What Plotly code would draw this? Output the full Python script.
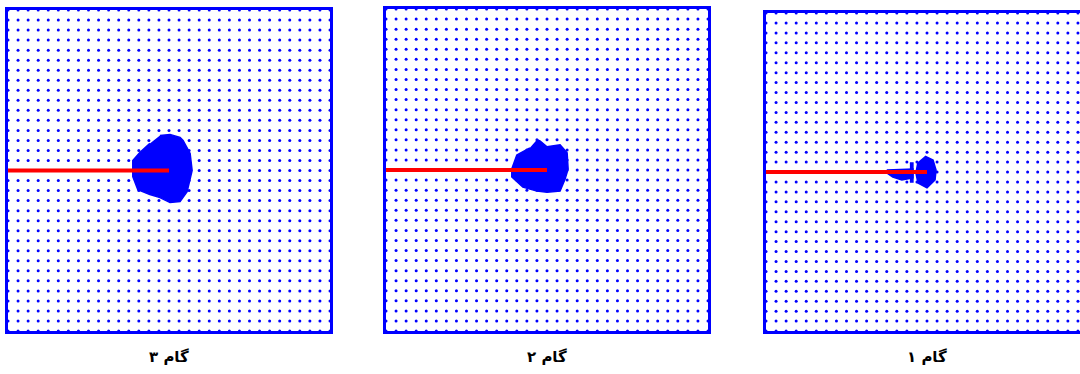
import plotly.graph_objects as go

W, H = 1080, 374

# regular lattice of sample points (both axes)
lattice = [0, 1, 2, 3, 4, 5, 6, 7, 8, 9, 10, 11, 12, 13, 14, 15, 16,
           17, 18, 19, 20, 21, 22, 23, 24, 25, 26, 27, 28, 29, 30, 31, 32]

# red path (start at left edge, end at centre)
path_x = [0, 16]
path_y = [16, 16]

# panel titles (left to right)
titles = ["گام ۳", "گام ۲", "گام ۱"]

# cluster outlines
step3_x = [15.1, 16.1, 17.1, 17.4, 18.1, 18.3, 17.8, 17.1, 16.1, 15.1, 14.1, 12.9, 12.4, 12.4, 13.1, 14.1]
step3_y = [19.5, 19.6, 19.3, 19.0, 17.7, 16.0, 13.9, 12.9, 12.8, 13.3, 13.6, 14.1, 15.4, 17.0, 17.8, 18.7]

step2_x = [15.0, 15.3, 16.0, 17.3, 18.0, 18.1, 17.8, 17.3, 16.0, 15.0, 13.6, 12.5, 12.5, 13.0, 14.3]
step2_y = [19.0, 18.9, 18.3, 18.5, 17.7, 16.1, 15.1, 13.9, 13.8, 13.9, 14.3, 15.3, 16.1, 17.5, 18.2]

step1_x = [15.8, 16.6, 16.9, 16.8, 16.0, 15.1, 14.9, 15.1]
step1_y = [17.6, 17.2, 16.2, 15.2, 14.4, 14.9, 15.9, 17.0]
step1_strip_x = [14.3, 14.6, 14.6, 14.3]
step1_strip_y = [16.9, 16.9, 15.0, 15.0]
step1_tail_x = [12.0, 14.6, 14.6, 13.5, 12.6, 12.0]
step1_tail_y = [16.2, 16.3, 15.4, 15.2, 15.5, 15.9]

BLUE = "#0000FF"
RED = "#FF0000"

# panel pixel boxes: (left, top, right, bottom)
boxes = [(8, 10, 330, 331), (386, 9, 708, 331), (766, 13, 1080, 331)]
unit = 322 / 32

fig = go.Figure()
gx = [x for y in lattice for x in lattice]
gy = [y for y in lattice for x in lattice]

clusters = [
    [(step3_x, step3_y)],
    [(step2_x, step2_y)],
    [(step1_x, step1_y), (step1_strip_x, step1_strip_y), (step1_tail_x, step1_tail_y)],
]

for i, (l, t, r, b) in enumerate(boxes):
    xa = "x" if i == 0 else f"x{i+1}"
    ya = "y" if i == 0 else f"y{i+1}"
    fig.add_trace(go.Scatter(x=gx, y=gy, mode="markers", xaxis=xa, yaxis=ya,
                             marker=dict(size=3, color=BLUE), cliponaxis=False,
                             hoverinfo="skip", showlegend=False))
    for cx, cy in clusters[i]:
        fig.add_trace(go.Scatter(x=cx, y=cy, mode="lines", fill="toself",
                                 fillcolor=BLUE, line=dict(color=BLUE, width=1.5),
                                 xaxis=xa, yaxis=ya, hoverinfo="skip", showlegend=False))
    fig.add_trace(go.Scatter(x=path_x, y=path_y, mode="lines", xaxis=xa, yaxis=ya,
                             line=dict(color=RED, width=4), hoverinfo="skip",
                             showlegend=False))
    xr = [0, (r - l) / unit]
    common = dict(showgrid=False, zeroline=False, showticklabels=False, ticks="",
                  showline=True, linecolor=BLUE, linewidth=3)
    fig.update_layout(**{
        ("xaxis" if i == 0 else f"xaxis{i+1}"): dict(
            domain=[l / W, min(r / W, 1.0)], range=xr, mirror=True,
            anchor=ya, **common),
        ("yaxis" if i == 0 else f"yaxis{i+1}"): dict(
            domain=[(H - b) / H, (H - t) / H], range=[0, 32],
            mirror=(i != 2), anchor=xa, **common),
    })
    cxp = l + 161
    fig.add_annotation(x=cxp / W, y=(H - 357) / H, xref="paper", yref="paper",
                       xanchor="center", yanchor="middle",
                       text=f"<b>{titles[i]}</b>", showarrow=False,
                       font=dict(family="DejaVu Sans", size=15, color="black"))

fig.update_layout(width=W, height=H, margin=dict(l=0, r=0, t=0, b=0),
                  paper_bgcolor="white", plot_bgcolor="white")

fig.write_html("out.html", config={"displayModeBar": False},
               post_script="document.body.style.margin='0';document.body.style.overflow='hidden';")
